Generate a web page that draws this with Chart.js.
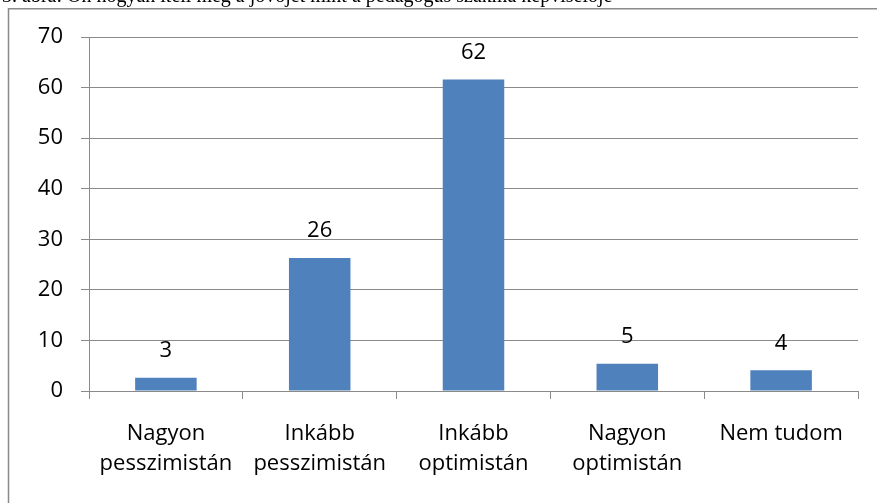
<!DOCTYPE html>
<html><head><meta charset="utf-8">
<script src="https://cdn.jsdelivr.net/npm/chart.js@4"></script>
<style>html,body{margin:0;padding:0;background:#fff;overflow:hidden}#wrap{width:877px;height:503px;position:relative}</style>
</head><body><div id="wrap"><canvas id="c" width="877" height="503"></canvas></div>
<script>
const caption = "3. ábra: Ön hogyan ítéli meg a jövőjét mint a pedagógus szakma képviselője";
const categories = [["Nagyon","pesszimistán"],["Inkább","pesszimistán"],["Inkább","optimistán"],["Nagyon","optimistán"],["Nem tudom"]];
const values = [2.6, 26.3, 61.6, 5.4, 4.1];
const yTicks = [0,10,20,30,40,50,60,70];

const FONT = "'Open Sans'";
const GRAY = "#8a8a8a";

const framePlugin = {
  id: 'frame',
  beforeDraw(chart){
    const ctx = chart.ctx;
    ctx.save();
    ctx.fillStyle = '#fff';
    ctx.fillRect(0,0,chart.width,chart.height);
    ctx.strokeStyle = GRAY;
    ctx.lineWidth = 1.5;
    ctx.beginPath();
    ctx.moveTo(8.5, 520); ctx.lineTo(8.5, 8.75); ctx.lineTo(900, 8.75);
    ctx.stroke();
    ctx.fillStyle = '#000';
    ctx.font = "20px 'Liberation Serif'";
    ctx.textBaseline = 'alphabetic';
    ctx.textAlign = 'left';
    ctx.fillText(caption, 2, 2);
    ctx.restore();
  }
};

const labelPlugin = {
  id: 'vlabels',
  afterDatasetsDraw(chart){
    const ctx = chart.ctx;
    const meta = chart.getDatasetMeta(0);
    ctx.save();
    ctx.fillStyle = '#000';
    ctx.font = "22px " + FONT;
    ctx.textAlign = 'center';
    ctx.textBaseline = 'middle';
    meta.data.forEach((bar,i)=>{
      ctx.fillText(String(Math.round(values[i])), bar.x, bar.y - 27);
    });
    ctx.restore();
  }
};

new Chart(document.getElementById('c'), {
  type: 'bar',
  data: { labels: categories, datasets: [{ data: values, backgroundColor: '#4F81BD', borderWidth: 0, barPercentage: 0.4, categoryPercentage: 1.0 }] },
  options: {
    responsive: false, animation: false,
    layout: { padding: { left: 0, top: 37, right: 19, bottom: 0 } },
    plugins: { legend: { display: false }, tooltip: { enabled: false } },
    scales: {
      x: {
        grid: { display: true, drawOnChartArea: false, drawTicks: true, tickLength: 8, color: GRAY, offset: true },
        border: { display: true, color: GRAY, width: 1 },
        ticks: { color: '#000', font: { family: FONT, size: 22, lineHeight: 1.364 }, padding: 20, maxRotation: 0, autoSkip: false },
        afterFit(s){ s.height = 112; }
      },
      y: {
        min: 0, max: 70,
        afterBuildTicks(s){ s.ticks = yTicks.map(v=>({value:v})); },
        grid: { color: GRAY, tickLength: 8, drawTicks: true },
        border: { display: true, color: GRAY, width: 1 },
        ticks: { color: '#000', font: { family: FONT, size: 22 }, padding: 18 },
        afterFit(s){ s.width = 89; }
      }
    }
  },
  plugins: [framePlugin, labelPlugin]
});
</script></body></html>
